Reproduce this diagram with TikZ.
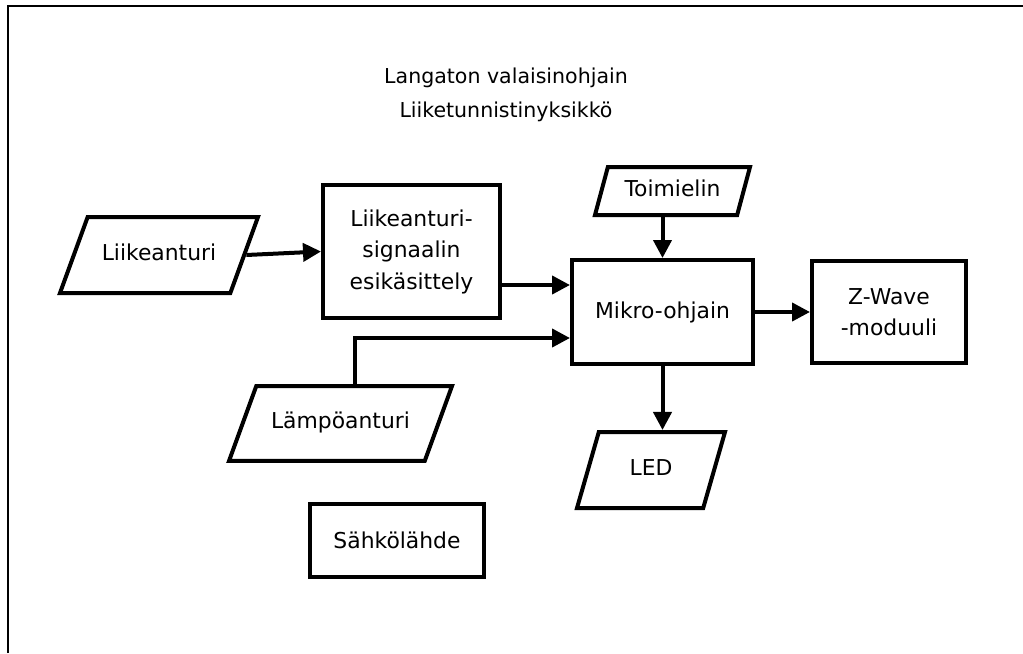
\documentclass[tikz,border=0pt]{standalone}
\usepackage{fontspec}
\setmainfont{DejaVu Sans}
\usepackage{tikz}
\usetikzlibrary{shapes.geometric, arrows.meta, positioning, calc}

\tikzset{
  block/.style={draw, line width=3pt, inner sep=0pt, align=center, font=\fontsize{16.4}{23.6}\selectfont},
  paragram/.style 2 args={block, trapezium, trapezium left angle=#1, trapezium right angle=#2,
    trapezium stretches body=true, text height=12pt, text depth=4pt},
  flow/.style={line width=3pt, -{Triangle[length=13.5pt,width=13.5pt]}}
}

\begin{document}
\begin{tikzpicture}[x=0.75pt, y=-0.75pt]
  \useasboundingbox (0,0) rectangle (1023,653);
  \draw[line width=1.5pt] (8,653) -- (8,6) -- (1023,6);

  \node[align=center, font=\fontsize{15.4}{25}\selectfont] (title) at (506,95) {Langaton valaisinohjain\\Liiketunnistinyksikkö};

  \node[paragram={70}{110}, minimum width=148.5pt, inner ysep=20.5pt] (liike) at (159,255) {Liikeanturi};
  \node[block, minimum width=132.75pt, minimum height=99.75pt] (esik) at (411.5,251.5) {Liikeanturi-\\signaalin\\esikäsittely};
  \node[paragram={75}{105}, minimum width=116.25pt, inner ysep=10pt] (toimi) at (672.5,191) {Toimielin};
  \node[block, minimum width=135.75pt, minimum height=78pt] (mikro) at (662.5,312) {Mikro-ohjain};
  \node[block, minimum width=115.5pt, minimum height=76.5pt] (zwave) at (889,312) {Z-Wave\\-moduuli};
  \node[paragram={70}{110}, minimum width=167.25pt, inner ysep=20.1pt] (lampo) at (340.5,423.5) {Lämpöanturi};
  \node[paragram={74}{106}, minimum width=111pt, inner ysep=20.5pt] (led) at (651,470) {LED};
  \node[block, minimum width=130.5pt, minimum height=54.75pt] (sahko) at (397,540.5) {Sähkölähde};

  \draw[flow] (liike.east) -- (esik.west);
  \draw[flow] (esik.east |- 0,285) -- (mikro.west |- 0,285);
  \draw[flow] (lampo.top side) |- (mikro.west |- 0,338);
  \draw[flow] (mikro.north |- toimi.bottom side) -- (mikro.north);
  \draw[flow] (mikro.east) -- (zwave.west);
  \draw[flow] (mikro.south) -- (mikro.south |- led.north);
\end{tikzpicture}
\end{document}
